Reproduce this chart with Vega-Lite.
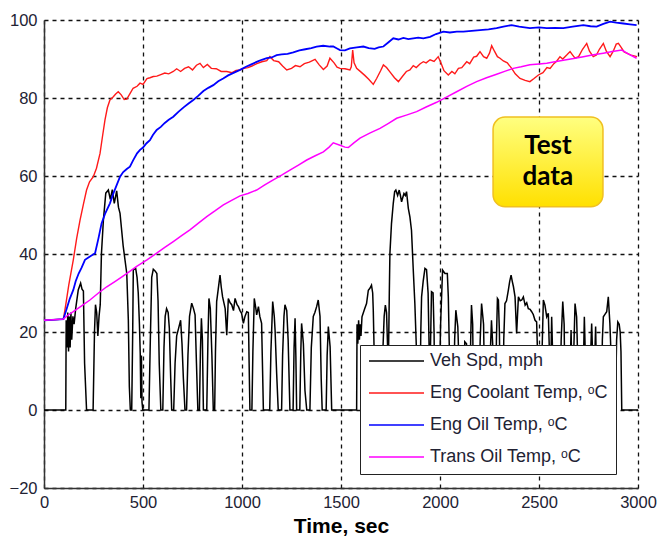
{
"$schema": "https://vega.github.io/schema/vega-lite/v6.json",
"width": 594, "height": 468,
"autosize": {"type": "none"},
"padding": {"left": 44, "top": 20, "right": 19, "bottom": 50},
"background": "white",
"config": {
  "view": {"stroke": null},
  "axis": {"labelFont": "Liberation Sans", "labelFontSize": 16.5, "labelColor": "#222233", "ticks": false, "domainColor": "#333333", "domainWidth": 1.5, "gridColor": "#111111", "gridDash": [4, 4], "gridWidth": 1.3, "gridOpacity": 1, "titleFont": "Liberation Sans", "titleFontSize": 21, "titleFontWeight": "bold", "titleColor": "#000000", "labelFlush": false, "labelOverlap": false, "format": "d"},
  "legend": {"labelFont": "Liberation Sans", "labelFontSize": 18, "labelColor": "#222233", "labelLimit": 400}
},
"datasets": {
"spd": [{"t":0,"v":0},{"t":110,"v":0},{"t":112,"v":23},{"t":116,"v":16},{"t":120,"v":25},{"t":124,"v":15},{"t":128,"v":24},{"t":132,"v":16},{"t":136,"v":25},{"t":140,"v":18},{"t":146,"v":24},{"t":152,"v":22},{"t":160,"v":26},{"t":173,"v":30.8},{"t":185,"v":32.5},{"t":192,"v":31},{"t":199,"v":30.5},{"t":205,"v":12},{"t":215,"v":0},{"t":248,"v":0},{"t":255,"v":20},{"t":260,"v":27},{"t":266,"v":25},{"t":272,"v":19},{"t":278,"v":24},{"t":284,"v":27},{"t":290,"v":40},{"t":300,"v":48.7},{"t":312,"v":55.6},{"t":325,"v":56.4},{"t":335,"v":54},{"t":345,"v":56.5},{"t":355,"v":53},{"t":367,"v":56.2},{"t":376,"v":52},{"t":384,"v":50.4},{"t":400,"v":42},{"t":418,"v":35},{"t":426,"v":23},{"t":431,"v":6},{"t":436,"v":0},{"t":443,"v":0},{"t":448,"v":20},{"t":451,"v":35.9},{"t":463,"v":36.3},{"t":470,"v":34},{"t":476,"v":30},{"t":482,"v":22},{"t":486,"v":14.6},{"t":489,"v":3},{"t":492,"v":14},{"t":495,"v":2},{"t":499,"v":0},{"t":530,"v":0},{"t":537,"v":18},{"t":544,"v":34},{"t":552,"v":36.1},{"t":562,"v":35.6},{"t":570,"v":35},{"t":576,"v":28},{"t":582,"v":12},{"t":590,"v":0},{"t":600,"v":0},{"t":606,"v":16},{"t":612,"v":24},{"t":619,"v":26},{"t":627,"v":25},{"t":633,"v":21},{"t":640,"v":8},{"t":645,"v":0},{"t":655,"v":0},{"t":662,"v":12},{"t":670,"v":19},{"t":680,"v":21},{"t":690,"v":23},{"t":697,"v":17},{"t":704,"v":8},{"t":712,"v":0},{"t":720,"v":0},{"t":727,"v":14},{"t":735,"v":24},{"t":746,"v":27.4},{"t":755,"v":26},{"t":763,"v":24.4},{"t":770,"v":12},{"t":777,"v":0},{"t":785,"v":0},{"t":790,"v":15},{"t":795,"v":23.5},{"t":800,"v":18},{"t":805,"v":0},{"t":822,"v":0},{"t":828,"v":18},{"t":833,"v":28.6},{"t":840,"v":26},{"t":848,"v":14},{"t":855,"v":0},{"t":862,"v":0},{"t":866,"v":15},{"t":872,"v":27.8},{"t":880,"v":31},{"t":889,"v":34.6},{"t":895,"v":31.6},{"t":902,"v":29},{"t":915,"v":26},{"t":923,"v":19.2},{"t":931,"v":28.6},{"t":940,"v":27.5},{"t":948,"v":27},{"t":957,"v":25.5},{"t":965,"v":28.6},{"t":975,"v":27},{"t":982,"v":26.5},{"t":990,"v":25.5},{"t":998,"v":24.8},{"t":1007,"v":22.2},{"t":1015,"v":24},{"t":1024,"v":25.2},{"t":1032,"v":25},{"t":1036,"v":12},{"t":1040,"v":0},{"t":1050,"v":0},{"t":1055,"v":15},{"t":1062,"v":28.6},{"t":1070,"v":26},{"t":1074,"v":24.4},{"t":1083,"v":26.5},{"t":1090,"v":24},{"t":1099,"v":22.2},{"t":1104,"v":10},{"t":1108,"v":0},{"t":1140,"v":0},{"t":1146,"v":15},{"t":1155,"v":27.8},{"t":1163,"v":24},{"t":1167,"v":20.5},{"t":1175,"v":9.4},{"t":1183,"v":0},{"t":1200,"v":0},{"t":1205,"v":14},{"t":1212,"v":24},{"t":1217,"v":27},{"t":1226,"v":25.5},{"t":1233,"v":18},{"t":1242,"v":0},{"t":1258,"v":0},{"t":1263,"v":16},{"t":1268,"v":23.5},{"t":1272,"v":14},{"t":1276,"v":0},{"t":1292,"v":0},{"t":1297,"v":15},{"t":1301,"v":22.2},{"t":1310,"v":17},{"t":1318,"v":5},{"t":1327,"v":0},{"t":1343,"v":0},{"t":1350,"v":16},{"t":1360,"v":24},{"t":1368,"v":25},{"t":1377,"v":26.5},{"t":1385,"v":28.2},{"t":1394,"v":24},{"t":1400,"v":8},{"t":1405,"v":0},{"t":1425,"v":0},{"t":1430,"v":14},{"t":1436,"v":21.4},{"t":1445,"v":16.2},{"t":1453,"v":0},{"t":1579,"v":0},{"t":1581,"v":22},{"t":1585,"v":17},{"t":1589,"v":23},{"t":1593,"v":18},{"t":1597,"v":22},{"t":1601,"v":19},{"t":1606,"v":23.9},{"t":1612,"v":24.8},{"t":1620,"v":26},{"t":1629,"v":27.3},{"t":1638,"v":30.7},{"t":1646,"v":31.2},{"t":1654,"v":32},{"t":1660,"v":30},{"t":1663,"v":25.6},{"t":1667,"v":16},{"t":1672,"v":5},{"t":1676,"v":0},{"t":1700,"v":0},{"t":1712,"v":16},{"t":1718,"v":24},{"t":1724,"v":26.9},{"t":1730,"v":25},{"t":1736,"v":15},{"t":1740,"v":14},{"t":1744,"v":30},{"t":1747,"v":40.1},{"t":1755,"v":47.8},{"t":1764,"v":53},{"t":1771,"v":56},{"t":1777,"v":56.4},{"t":1786,"v":55},{"t":1794,"v":56.4},{"t":1800,"v":55},{"t":1806,"v":53.4},{"t":1812,"v":54.5},{"t":1818,"v":55.5},{"t":1825,"v":55},{"t":1831,"v":56},{"t":1840,"v":51.7},{"t":1848,"v":49.5},{"t":1856,"v":46.1},{"t":1865,"v":35.9},{"t":1873,"v":27.3},{"t":1880,"v":17},{"t":1886,"v":0},{"t":1898,"v":0},{"t":1903,"v":20},{"t":1907,"v":29},{"t":1915,"v":33},{"t":1924,"v":36.3},{"t":1932,"v":36},{"t":1940,"v":29.9},{"t":1945,"v":16},{"t":1949,"v":0},{"t":1952,"v":16},{"t":1957,"v":30.3},{"t":1965,"v":30},{"t":1970,"v":20},{"t":1974,"v":0},{"t":1995,"v":0},{"t":2003,"v":22},{"t":2013,"v":35.9},{"t":2025,"v":35},{"t":2037,"v":35},{"t":2042,"v":29},{"t":2047,"v":16},{"t":2052,"v":0},{"t":2068,"v":0},{"t":2074,"v":18},{"t":2080,"v":25.6},{"t":2090,"v":21.3},{"t":2097,"v":10},{"t":2102,"v":0},{"t":2120,"v":0},{"t":2125,"v":17.5},{"t":2134,"v":17},{"t":2138,"v":0},{"t":2150,"v":0},{"t":2155,"v":18},{"t":2159,"v":26.9},{"t":2165,"v":22},{"t":2170,"v":0},{"t":2195,"v":0},{"t":2203,"v":18},{"t":2210,"v":27.3},{"t":2220,"v":22},{"t":2227,"v":0},{"t":2250,"v":0},{"t":2255,"v":16},{"t":2260,"v":23},{"t":2266,"v":17},{"t":2270,"v":0},{"t":2280,"v":0},{"t":2285,"v":18},{"t":2290,"v":28.6},{"t":2295,"v":28.2},{"t":2300,"v":20},{"t":2305,"v":0},{"t":2318,"v":0},{"t":2322,"v":18},{"t":2328,"v":27.3},{"t":2336,"v":28},{"t":2345,"v":30.7},{"t":2352,"v":33},{"t":2359,"v":34.6},{"t":2365,"v":33},{"t":2371,"v":31.6},{"t":2379,"v":29},{"t":2387,"v":19.6},{"t":2396,"v":29},{"t":2405,"v":28},{"t":2413,"v":28.2},{"t":2421,"v":29},{"t":2430,"v":26.9},{"t":2438,"v":27.5},{"t":2446,"v":26},{"t":2455,"v":25.8},{"t":2463,"v":25.2},{"t":2471,"v":24.5},{"t":2480,"v":23},{"t":2488,"v":22.6},{"t":2493,"v":14},{"t":2497,"v":0},{"t":2512,"v":0},{"t":2516,"v":16},{"t":2522,"v":28.2},{"t":2530,"v":26.9},{"t":2539,"v":23.9},{"t":2547,"v":24.8},{"t":2552,"v":16},{"t":2556,"v":0},{"t":2560,"v":12},{"t":2564,"v":23.9},{"t":2569,"v":14},{"t":2572,"v":0},{"t":2605,"v":0},{"t":2612,"v":18},{"t":2620,"v":27.8},{"t":2627,"v":22},{"t":2632,"v":0},{"t":2655,"v":0},{"t":2659,"v":14},{"t":2662,"v":20.5},{"t":2666,"v":10},{"t":2670,"v":0},{"t":2675,"v":14},{"t":2682,"v":27.3},{"t":2690,"v":23.9},{"t":2695,"v":14},{"t":2699,"v":0},{"t":2722,"v":0},{"t":2726,"v":16},{"t":2729,"v":23.9},{"t":2734,"v":14},{"t":2738,"v":0},{"t":2758,"v":0},{"t":2762,"v":16},{"t":2766,"v":22.2},{"t":2772,"v":12},{"t":2778,"v":0},{"t":2782,"v":14},{"t":2786,"v":21.4},{"t":2790,"v":10},{"t":2795,"v":0},{"t":2815,"v":0},{"t":2820,"v":18},{"t":2825,"v":23.9},{"t":2833,"v":24.5},{"t":2842,"v":25.2},{"t":2850,"v":29},{"t":2858,"v":22.2},{"t":2864,"v":14},{"t":2867,"v":0},{"t":2885,"v":0},{"t":2892,"v":18},{"t":2898,"v":22.6},{"t":2905,"v":22},{"t":2910,"v":20},{"t":2914,"v":15},{"t":2918,"v":0},{"t":3000,"v":0}],
"cool": [{"t":0,"v":23},{"t":98,"v":23.3},{"t":110,"v":27},{"t":125,"v":32},{"t":148,"v":38.5},{"t":165,"v":44},{"t":182,"v":48.7},{"t":200,"v":53},{"t":215,"v":56.4},{"t":230,"v":58.5},{"t":249,"v":59.8},{"t":265,"v":62},{"t":283,"v":65.8},{"t":295,"v":70},{"t":308,"v":74.4},{"t":320,"v":77.5},{"t":333,"v":79.5},{"t":350,"v":80.3},{"t":362,"v":81},{"t":375,"v":81.6},{"t":390,"v":80.8},{"t":405,"v":79.6},{"t":418,"v":79.7},{"t":435,"v":81.2},{"t":450,"v":82.5},{"t":470,"v":83},{"t":485,"v":83.8},{"t":500,"v":83.5},{"t":520,"v":85},{"t":535,"v":85.2},{"t":552,"v":85.5},{"t":570,"v":85.6},{"t":590,"v":86},{"t":610,"v":86.4},{"t":630,"v":86.2},{"t":653,"v":86.8},{"t":670,"v":87.5},{"t":690,"v":86.8},{"t":710,"v":87.6},{"t":730,"v":88},{"t":750,"v":87.2},{"t":770,"v":88.4},{"t":788,"v":88.9},{"t":805,"v":87.8},{"t":825,"v":88.6},{"t":845,"v":87.6},{"t":870,"v":87.5},{"t":895,"v":86.8},{"t":923,"v":86.8},{"t":950,"v":86.5},{"t":970,"v":87.1},{"t":990,"v":87.2},{"t":1010,"v":87.6},{"t":1030,"v":87.8},{"t":1050,"v":88.2},{"t":1075,"v":88.8},{"t":1100,"v":89.3},{"t":1125,"v":89.6},{"t":1141,"v":90.6},{"t":1160,"v":89.6},{"t":1185,"v":89.3},{"t":1205,"v":88.2},{"t":1226,"v":87.2},{"t":1250,"v":87.6},{"t":1270,"v":88.3},{"t":1293,"v":88},{"t":1315,"v":88.8},{"t":1340,"v":89.2},{"t":1369,"v":89.9},{"t":1390,"v":88.5},{"t":1411,"v":87.3},{"t":1430,"v":88.2},{"t":1444,"v":90.2},{"t":1465,"v":89},{"t":1480,"v":87.9},{"t":1495,"v":87.6},{"t":1520,"v":87.5},{"t":1545,"v":87.2},{"t":1552,"v":88},{"t":1559,"v":92.3},{"t":1566,"v":89},{"t":1579,"v":87.6},{"t":1600,"v":86.7},{"t":1620,"v":85.8},{"t":1640,"v":84.8},{"t":1663,"v":83.5},{"t":1680,"v":85},{"t":1700,"v":87},{"t":1714,"v":88.5},{"t":1730,"v":87.8},{"t":1750,"v":86.5},{"t":1770,"v":85.2},{"t":1790,"v":84.2},{"t":1810,"v":85.5},{"t":1830,"v":86.8},{"t":1848,"v":87.2},{"t":1865,"v":88.3},{"t":1880,"v":87.8},{"t":1900,"v":88.8},{"t":1916,"v":89.3},{"t":1930,"v":89},{"t":1950,"v":89.8},{"t":1970,"v":89.4},{"t":1991,"v":90.6},{"t":2005,"v":89},{"t":2020,"v":87},{"t":2042,"v":85.9},{"t":2060,"v":86.8},{"t":2075,"v":86.2},{"t":2093,"v":87.6},{"t":2110,"v":87.8},{"t":2135,"v":89.3},{"t":2150,"v":88.8},{"t":2170,"v":90.5},{"t":2185,"v":90.7},{"t":2202,"v":91.9},{"t":2220,"v":90.6},{"t":2236,"v":90.2},{"t":2250,"v":91.5},{"t":2261,"v":93.4},{"t":2275,"v":92},{"t":2290,"v":90.6},{"t":2303,"v":90.2},{"t":2320,"v":89.5},{"t":2340,"v":89},{"t":2362,"v":87.6},{"t":2380,"v":86.2},{"t":2404,"v":85},{"t":2430,"v":84.5},{"t":2454,"v":84.2},{"t":2475,"v":85},{"t":2497,"v":85.9},{"t":2520,"v":86.5},{"t":2540,"v":87.8},{"t":2556,"v":87.6},{"t":2575,"v":88.8},{"t":2590,"v":89.5},{"t":2606,"v":90.6},{"t":2620,"v":90},{"t":2640,"v":91},{"t":2657,"v":91.9},{"t":2670,"v":91},{"t":2682,"v":90.2},{"t":2700,"v":90.6},{"t":2720,"v":92.5},{"t":2741,"v":94},{"t":2755,"v":92},{"t":2774,"v":90.6},{"t":2790,"v":91},{"t":2805,"v":92.5},{"t":2825,"v":94},{"t":2840,"v":92},{"t":2859,"v":90.6},{"t":2875,"v":92},{"t":2890,"v":93.8},{"t":2901,"v":94},{"t":2915,"v":93},{"t":2930,"v":91.8},{"t":2943,"v":91.5},{"t":2965,"v":91},{"t":2980,"v":90.8},{"t":2995,"v":90.6}],
"oil": [{"t":0,"v":23},{"t":98,"v":23.3},{"t":115,"v":26},{"t":130,"v":28.5},{"t":148,"v":30.8},{"t":160,"v":33},{"t":175,"v":35},{"t":190,"v":36.5},{"t":207,"v":38.5},{"t":230,"v":39.3},{"t":258,"v":40.2},{"t":275,"v":44},{"t":291,"v":47.9},{"t":310,"v":50.5},{"t":333,"v":53},{"t":350,"v":55.5},{"t":368,"v":57.8},{"t":384,"v":59.8},{"t":400,"v":61},{"t":418,"v":61.8},{"t":434,"v":62.4},{"t":450,"v":64},{"t":470,"v":65.8},{"t":485,"v":66.7},{"t":500,"v":67.3},{"t":518,"v":68.4},{"t":535,"v":69.2},{"t":550,"v":70.5},{"t":569,"v":71.8},{"t":590,"v":72.6},{"t":610,"v":73.6},{"t":630,"v":74.4},{"t":653,"v":75.2},{"t":680,"v":76.5},{"t":705,"v":77.6},{"t":730,"v":78.6},{"t":754,"v":79.5},{"t":780,"v":80.6},{"t":805,"v":81.8},{"t":830,"v":82.6},{"t":855,"v":83.3},{"t":880,"v":84.3},{"t":905,"v":85},{"t":930,"v":85.8},{"t":960,"v":86.5},{"t":990,"v":87.2},{"t":1020,"v":88},{"t":1050,"v":88.7},{"t":1080,"v":89.4},{"t":1100,"v":89.8},{"t":1125,"v":90.2},{"t":1150,"v":90.4},{"t":1175,"v":91},{"t":1200,"v":91.2},{"t":1230,"v":91.3},{"t":1259,"v":91.7},{"t":1290,"v":92.2},{"t":1320,"v":92.5},{"t":1350,"v":92.8},{"t":1377,"v":93.2},{"t":1410,"v":93.4},{"t":1444,"v":93.2},{"t":1461,"v":93.2},{"t":1480,"v":92.7},{"t":1495,"v":92.3},{"t":1520,"v":92.2},{"t":1545,"v":92.7},{"t":1580,"v":93},{"t":1613,"v":93.2},{"t":1640,"v":92.8},{"t":1670,"v":92.6},{"t":1690,"v":93},{"t":1714,"v":93.2},{"t":1740,"v":94.3},{"t":1764,"v":95.3},{"t":1790,"v":95},{"t":1815,"v":95.4},{"t":1840,"v":95.1},{"t":1865,"v":95.3},{"t":1890,"v":95.5},{"t":1916,"v":95.3},{"t":1950,"v":95.7},{"t":1980,"v":96.4},{"t":2017,"v":97},{"t":2050,"v":96.8},{"t":2085,"v":97},{"t":2118,"v":97},{"t":2160,"v":97.2},{"t":2202,"v":97.4},{"t":2245,"v":97.6},{"t":2286,"v":97.9},{"t":2320,"v":98.3},{"t":2362,"v":98.7},{"t":2400,"v":98.3},{"t":2454,"v":97.9},{"t":2500,"v":98.1},{"t":2539,"v":97.9},{"t":2580,"v":98},{"t":2623,"v":97.9},{"t":2670,"v":98.3},{"t":2724,"v":98.7},{"t":2760,"v":98.4},{"t":2791,"v":98.3},{"t":2825,"v":99},{"t":2859,"v":99.6},{"t":2890,"v":99.3},{"t":2926,"v":99.1},{"t":2960,"v":98.9},{"t":2993,"v":98.7}],
"trans": [{"t":0,"v":23},{"t":98,"v":23.3},{"t":120,"v":24.3},{"t":148,"v":25.2},{"t":190,"v":26.7},{"t":232,"v":28.2},{"t":275,"v":30},{"t":317,"v":31.6},{"t":360,"v":33},{"t":401,"v":34.4},{"t":435,"v":35.6},{"t":468,"v":36.8},{"t":520,"v":38.5},{"t":569,"v":40.2},{"t":610,"v":41.7},{"t":653,"v":43.2},{"t":695,"v":44.7},{"t":737,"v":46.2},{"t":780,"v":47.9},{"t":822,"v":49.6},{"t":865,"v":51.1},{"t":906,"v":52.6},{"t":950,"v":53.8},{"t":990,"v":54.9},{"t":1030,"v":55.5},{"t":1074,"v":56.4},{"t":1115,"v":57.7},{"t":1158,"v":59},{"t":1200,"v":60.2},{"t":1242,"v":61.5},{"t":1285,"v":62.8},{"t":1327,"v":64.1},{"t":1370,"v":65.2},{"t":1411,"v":66.2},{"t":1440,"v":67.4},{"t":1461,"v":68.5},{"t":1495,"v":67.9},{"t":1520,"v":67.4},{"t":1537,"v":67.3},{"t":1565,"v":68.5},{"t":1596,"v":69.7},{"t":1645,"v":71},{"t":1697,"v":72.2},{"t":1740,"v":73.5},{"t":1781,"v":74.8},{"t":1830,"v":75.6},{"t":1882,"v":76.5},{"t":1930,"v":77.7},{"t":1983,"v":78.9},{"t":2035,"v":80.3},{"t":2084,"v":81.6},{"t":2135,"v":83},{"t":2185,"v":84.2},{"t":2235,"v":85.2},{"t":2286,"v":86.1},{"t":2330,"v":86.9},{"t":2370,"v":87.6},{"t":2410,"v":88},{"t":2454,"v":88.5},{"t":2500,"v":88.7},{"t":2539,"v":88.9},{"t":2580,"v":89.3},{"t":2623,"v":89.7},{"t":2675,"v":90.1},{"t":2724,"v":90.6},{"t":2775,"v":91.1},{"t":2825,"v":91.5},{"t":2870,"v":91.9},{"t":2918,"v":92.3},{"t":2955,"v":91.2},{"t":2993,"v":90.2}],
"box": [{"name": "Test data", "t0": 2268, "t1": 2823, "v0": 52.1, "v1": 75.1, "tc": 2545, "vc": 67.6}]
},
"layer": [
  {"data": {"name": "spd"}, "mark": {"type": "line", "strokeWidth": 1.5, "clip": true},
   "encoding": {
     "x": {"field": "t", "type": "quantitative", "scale": {"domain": [0, 3000], "nice": false, "zero": false}, "axis": {"values": [0, 500, 1000, 1500, 2000, 2500, 3000], "labelPadding": 6, "titlePadding": 5}, "title": "Time, sec"},
     "y": {"field": "v", "type": "quantitative", "scale": {"domain": [-20, 100], "nice": false, "zero": false}, "axis": {"values": [-20, 0, 20, 40, 60, 80, 100], "labelPadding": 7}, "title": null},
     "color": {"datum": "Veh Spd, mph", "type": "nominal",
     "scale": {"domain": ["Veh Spd, mph", "Eng Coolant Temp, ᵒC", "Eng Oil Temp, ᵒC", "Trans Oil Temp, ᵒC"], "range": ["#000000", "#ff1a1a", "#0000ff", "#ff00ff"]},
     "legend": {"title": null, "orient": "none", "legendX": 316, "legendY": 325, "symbolType": "stroke", "symbolSize": 3025, "symbolStrokeWidth": 1.5, "clipHeight": 16, "rowPadding": 14, "padding": 8, "labelOffset": 5, "strokeColor": "#222222", "fillColor": "#ffffff"}}}},
  {"data": {"name": "cool"}, "mark": {"type": "line", "strokeWidth": 1.4, "clip": true},
   "encoding": {"x": {"field": "t", "type": "quantitative", "title": "Time, sec"}, "y": {"field": "v", "type": "quantitative", "title": null}, "color": {"datum": "Eng Coolant Temp, ᵒC", "type": "nominal"}}},
  {"data": {"name": "oil"}, "mark": {"type": "line", "strokeWidth": 1.8, "clip": true},
   "encoding": {"x": {"field": "t", "type": "quantitative", "title": "Time, sec"}, "y": {"field": "v", "type": "quantitative", "title": null}, "color": {"datum": "Eng Oil Temp, ᵒC", "type": "nominal"}}},
  {"data": {"name": "trans"}, "mark": {"type": "line", "strokeWidth": 1.5, "clip": true},
   "encoding": {"x": {"field": "t", "type": "quantitative", "title": "Time, sec"}, "y": {"field": "v", "type": "quantitative", "title": null}, "color": {"datum": "Trans Oil Temp, ᵒC", "type": "nominal"}}},
  {"data": {"name": "box"}, "mark": {"type": "rect", "cornerRadius": 12, "fill": "#000000", "opacity": 0.12, "xOffset": 3, "yOffset": 3},
   "encoding": {"x": {"field": "t0", "type": "quantitative", "title": "Time, sec"}, "x2": {"field": "t1"}, "y": {"field": "v1", "type": "quantitative", "title": null}, "y2": {"field": "v0"}}},
  {"data": {"name": "box"}, "mark": {"type": "rect", "cornerRadius": 12, "stroke": "#f0c020", "strokeWidth": 1.5,
     "fill": {"gradient": "linear", "x1": 0, "y1": 0, "x2": 0, "y2": 1, "stops": [{"offset": 0, "color": "#ffff80"}, {"offset": 1, "color": "#ffe000"}]}},
   "encoding": {"x": {"field": "t0", "type": "quantitative", "title": "Time, sec"}, "x2": {"field": "t1"}, "y": {"field": "v1", "type": "quantitative", "title": null}, "y2": {"field": "v0"}}},
  {"data": {"name": "box"}, "mark": {"type": "text", "lineBreak": " ", "lineHeight": 31, "font": "Lato", "fontWeight": "bold", "fontSize": 26, "align": "center", "baseline": "middle", "color": "#000000"},
   "encoding": {"x": {"field": "tc", "type": "quantitative", "title": "Time, sec"}, "y": {"field": "vc", "type": "quantitative", "title": null}, "text": {"field": "name"}}}
]
}
